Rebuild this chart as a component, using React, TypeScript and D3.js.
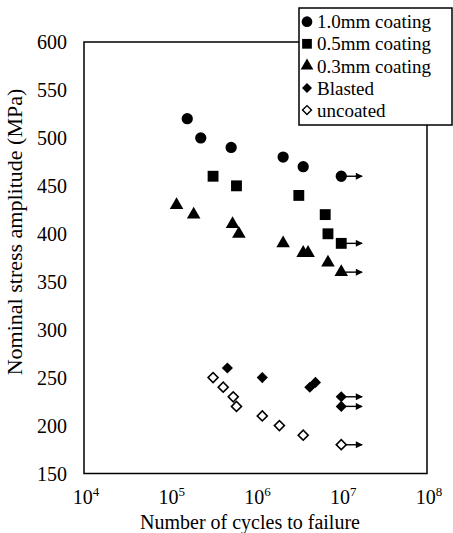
import React from 'react';
import * as d3 from 'd3';

// fatigue data: [cycles, stress MPa]
const coat10 = [[1.6e5, 520], [2.3e5, 500], [5.2e5, 490], [2.1e6, 480], [3.6e6, 470], [1e7, 460]];
const coat05 = [[3.2e5, 460], [6e5, 450], [3.2e6, 440], [6.5e6, 420], [7e6, 400], [1e7, 390]];
const coat03 = [[1.2e5, 430], [1.9e5, 420], [5.4e5, 410], [6.4e5, 400], [2.1e6, 390], [3.6e6, 380], [4.1e6, 380], [7e6, 370], [1e7, 360]];
const blasted = [[4.7e5, 260], [1.2e6, 250], [4.3e6, 240], [5e6, 245], [1e7, 230], [1e7, 220]];
const uncoated = [[3.2e5, 250], [4.2e5, 240], [5.5e5, 230], [6e5, 220], [1.2e6, 210], [1.9e6, 200], [3.6e6, 190], [1e7, 180]];
// run-out specimens (no failure)
const runouts = [[1e7, 460], [1e7, 390], [1e7, 360], [1e7, 230], [1e7, 220], [1e7, 180]];
const runoutEnd = 1.75e7;

const yTicks = [150, 200, 250, 300, 350, 400, 450, 500, 550, 600];
const xTicks = [1e4, 1e5, 1e6, 1e7, 1e8];
const legendLabels = ['1.0mm coating', '0.5mm coating', '0.3mm coating', 'Blasted', 'uncoated'];

const font = '"Liberation Serif", "Times New Roman", serif';

const x = d3.scaleLog().domain([1e4, 1e8]).range([84, 427]);
const y = d3.scaleLinear().domain([150, 600]).range([473.5, 42]);

const circle = d3.symbol(d3.symbolCircle, 100)();
const square = d3.symbol(d3.symbolSquare, 118)();
const triangle = d3.symbol(d3.symbolTriangle, 80)();
const diamond = d3.symbol(d3.symbolSquare, 62)();
const diamondOpen = d3.symbol(d3.symbolSquare, 50)();

const series = [
  { data: coat10, path: circle, rot: 0, open: false },
  { data: coat05, path: square, rot: 0, open: false },
  { data: coat03, path: triangle, rot: 0, open: false },
  { data: blasted, path: diamond, rot: 45, open: false },
  { data: uncoated, path: diamondOpen, rot: 45, open: true },
];

const legendSymbols = [
  d3.symbol(d3.symbolCircle, 90)(),
  d3.symbol(d3.symbolSquare, 95)(),
  d3.symbol(d3.symbolTriangle, 70)(),
  d3.symbol(d3.symbolSquare, 50)(),
  d3.symbol(d3.symbolSquare, 40)(),
];

const Mark = ({ path, rot, open, cx, cy }) => (
  <path
    d={path}
    transform={`translate(${cx},${cy}) rotate(${rot})`}
    fill={open ? '#fff' : '#000'}
    stroke="#000"
    strokeWidth={open ? 1.6 : 0}
  />
);

export default function App() {
  return (
    <svg width={453} height={533} style={{ position: 'absolute', left: 0, top: 0, background: '#fff' }}>
      <defs>
        <marker id="arr" viewBox="0 0 10 10" refX="9" refY="5" markerWidth="8" markerHeight="7" markerUnits="userSpaceOnUse" orient="auto">
          <path d="M0,0 L10,5 L0,10 z" fill="#000" />
        </marker>
      </defs>

      {/* frame */}
      <rect x={x(1e4)} y={y(600)} width={x(1e8) - x(1e4)} height={y(150) - y(600)} fill="none" stroke="#000" strokeWidth={1.5} />

      {/* y tick labels */}
      {yTicks.map(t => (
        <text key={t} x={67} y={y(t)} dy="0.35em" textAnchor="end" fontFamily={font} fontSize={20}>{t}</text>
      ))}

      {/* x tick labels */}
      {xTicks.map(t => (
        <text key={t} x={x(t) + 2} y={504} textAnchor="middle" fontFamily={font} fontSize={20}>
          10<tspan fontSize={13} dy={-8}>{Math.round(Math.log10(t))}</tspan>
        </text>
      ))}

      <text x={250} y={529} textAnchor="middle" fontFamily={font} fontSize={20}>Number of cycles to failure</text>
      <text transform="translate(22,232) rotate(-90)" textAnchor="middle" fontFamily={font} fontSize={22}>Nominal stress amplitude (MPa)</text>

      {/* run-out arrows */}
      {runouts.map((d, i) => (
        <line key={i} x1={x(d[0]) + 4} y1={y(d[1])} x2={x(runoutEnd)} y2={y(d[1])} stroke="#000" strokeWidth={1.4} markerEnd="url(#arr)" />
      ))}

      {series.map((s, si) =>
        s.data.map((d, i) => (
          <Mark key={`${si}-${i}`} path={s.path} rot={s.rot} open={s.open} cx={x(d[0])} cy={y(d[1])} />
        ))
      )}

      {/* legend */}
      <rect x={299} y={8} width={153} height={117} fill="#fff" stroke="#000" strokeWidth={1.5} />
      {legendLabels.map((l, i) => (
        <g key={l} transform={`translate(0,${21.7 + i * 22.1})`}>
          <path
            d={legendSymbols[i]}
            transform={`translate(307,0) rotate(${i >= 3 ? 45 : 0})`}
            fill={i === 4 ? '#fff' : '#000'}
            stroke="#000"
            strokeWidth={i === 4 ? 1.4 : 0}
          />
          <text x={317} y={0} dy="0.35em" fontFamily={font} fontSize={19}>{l}</text>
        </g>
      ))}
    </svg>
  );
}
